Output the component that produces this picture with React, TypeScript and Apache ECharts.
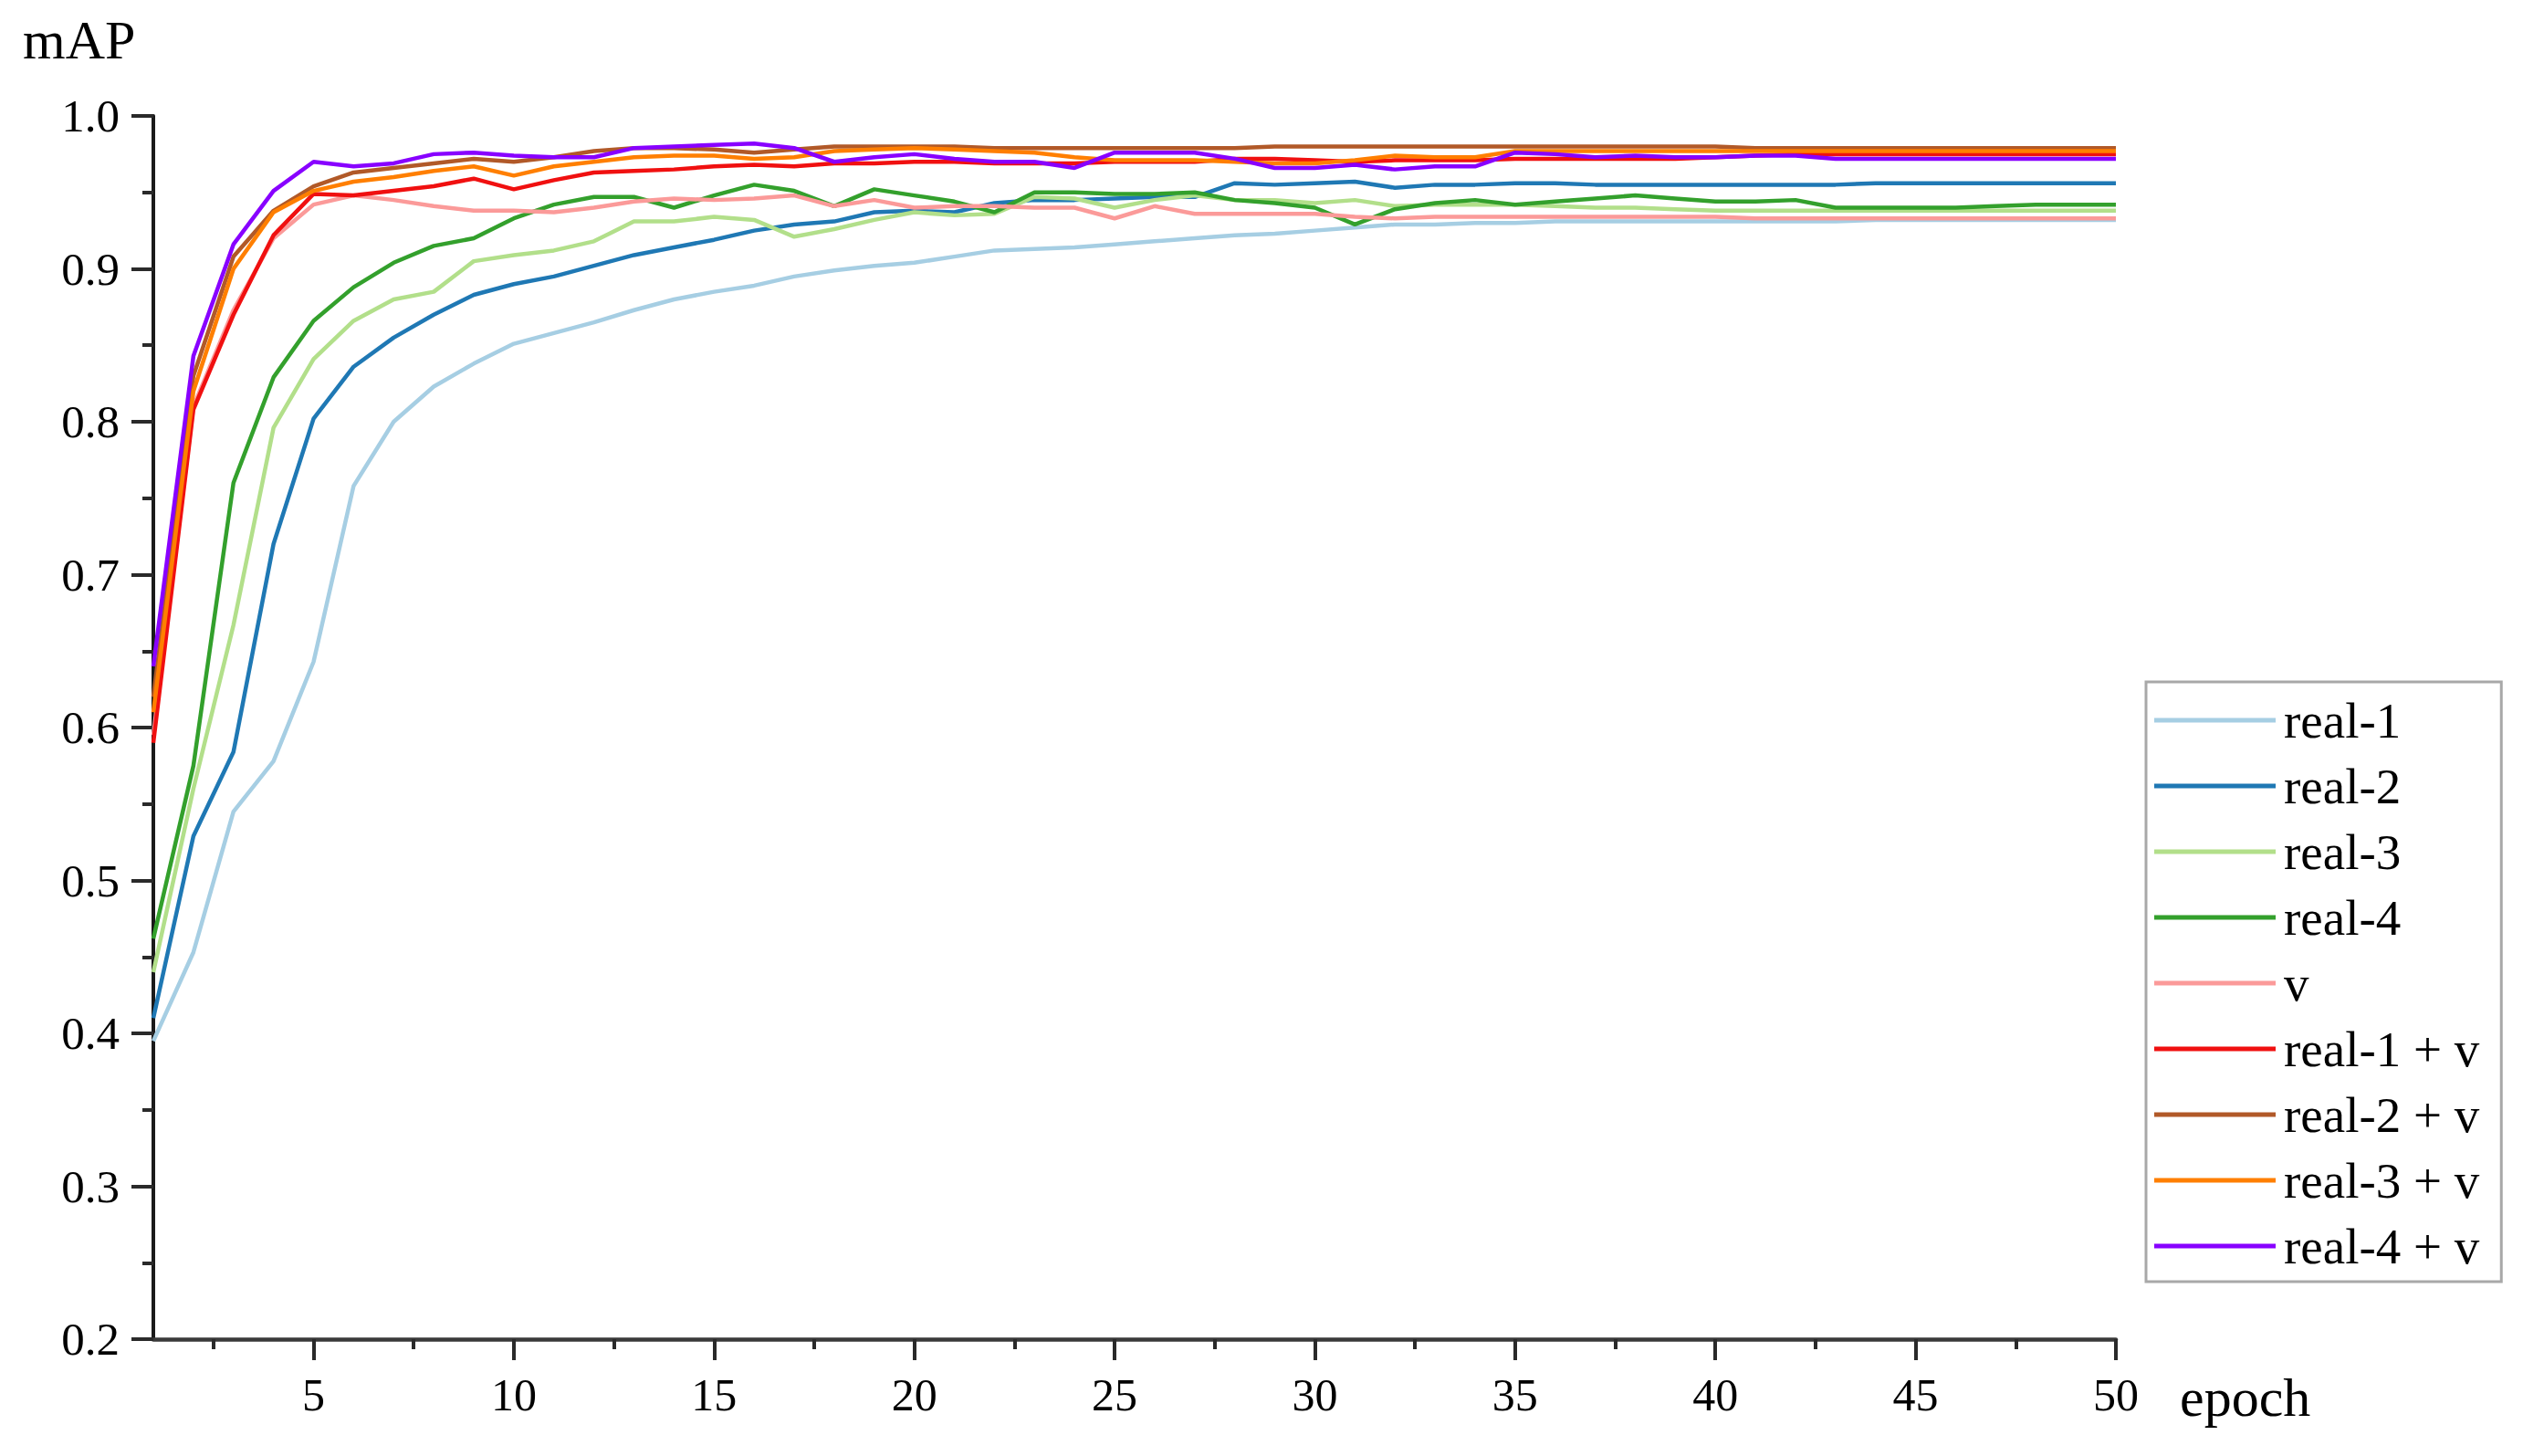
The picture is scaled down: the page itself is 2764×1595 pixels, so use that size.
import React, { useEffect, useRef } from "react";
import * as echarts from "echarts";

const epochs = [
  1, 2, 3, 4, 5, 6, 7, 8, 9, 10, 11, 12, 13, 14, 15, 16, 17, 18, 19, 20, 21, 22, 23, 24, 25,
  26, 27, 28, 29, 30, 31, 32, 33, 34, 35, 36, 37, 38, 39, 40, 41, 42, 43, 44, 45, 46, 47, 48, 49, 50,
];

const seriesNames = [
  "real-1",
  "real-2",
  "real-3",
  "real-4",
  "v",
  "real-1 + v",
  "real-2 + v",
  "real-3 + v",
  "real-4 + v",
];

const seriesColors = [
  "#a6cee3",
  "#1f78b4",
  "#b2df8a",
  "#33a02c",
  "#fb9a99",
  "#f01010",
  "#b15928",
  "#ff7f00",
  "#8800ff",
];

const real1 = [
  0.395, 0.453, 0.545, 0.578, 0.643, 0.758, 0.8, 0.823, 0.838, 0.851,
  0.858, 0.865, 0.873, 0.88, 0.885, 0.889, 0.895, 0.899, 0.902, 0.904,
  0.908, 0.912, 0.913, 0.914, 0.916, 0.918, 0.92, 0.922, 0.923, 0.925,
  0.927, 0.929, 0.929, 0.93, 0.93, 0.931, 0.931, 0.931, 0.931, 0.931,
  0.931, 0.931, 0.931, 0.932, 0.932, 0.932, 0.932, 0.932, 0.932, 0.932,
];

const real2 = [
  0.41, 0.529, 0.584, 0.72, 0.802, 0.836, 0.855, 0.87, 0.883, 0.89,
  0.895, 0.902, 0.909, 0.914, 0.919, 0.925, 0.929, 0.931, 0.937, 0.938,
  0.937, 0.943, 0.945, 0.945, 0.946, 0.947, 0.947, 0.956, 0.955, 0.956,
  0.957, 0.953, 0.955, 0.955, 0.956, 0.956, 0.955, 0.955, 0.955, 0.955,
  0.955, 0.955, 0.955, 0.956, 0.956, 0.956, 0.956, 0.956, 0.956, 0.956,
];

const real3 = [
  0.44, 0.56, 0.667, 0.796, 0.841, 0.866, 0.88, 0.885, 0.905, 0.909,
  0.912, 0.918, 0.931, 0.931, 0.934, 0.932, 0.921, 0.926, 0.932, 0.937,
  0.935, 0.936, 0.947, 0.946, 0.94, 0.945, 0.948, 0.945, 0.945, 0.943,
  0.945, 0.941, 0.942, 0.942, 0.942, 0.941, 0.94, 0.94, 0.939, 0.938,
  0.938, 0.938, 0.938, 0.938, 0.938, 0.938, 0.938, 0.938, 0.938, 0.938,
];

const real4 = [
  0.462, 0.575, 0.76, 0.829, 0.866, 0.888, 0.904, 0.915, 0.92, 0.933,
  0.942, 0.947, 0.947, 0.94, 0.948, 0.955, 0.951, 0.941, 0.952, 0.948,
  0.944, 0.937, 0.95, 0.95, 0.949, 0.949, 0.95, 0.945, 0.943, 0.94,
  0.929, 0.939, 0.943, 0.945, 0.942, 0.944, 0.946, 0.948, 0.946, 0.944,
  0.944, 0.945, 0.94, 0.94, 0.94, 0.94, 0.941, 0.942, 0.942, 0.942,
];

const vOnly = [
  0.595, 0.81, 0.873, 0.92, 0.942, 0.948, 0.945, 0.941, 0.938, 0.938,
  0.937, 0.94, 0.944, 0.946, 0.945, 0.946, 0.948, 0.941, 0.945, 0.94,
  0.941, 0.941, 0.94, 0.94, 0.933, 0.941, 0.936, 0.936, 0.936, 0.936,
  0.934, 0.933, 0.934, 0.934, 0.934, 0.934, 0.934, 0.934, 0.934, 0.934,
  0.933, 0.933, 0.933, 0.933, 0.933, 0.933, 0.933, 0.933, 0.933, 0.933,
];

const real1v = [
  0.59, 0.808, 0.87, 0.922, 0.949, 0.948, 0.951, 0.954, 0.959, 0.952,
  0.958, 0.963, 0.964, 0.965, 0.967, 0.968, 0.967, 0.969, 0.969, 0.97,
  0.97, 0.969, 0.969, 0.969, 0.97, 0.97, 0.97, 0.972, 0.972, 0.971,
  0.97, 0.971, 0.971, 0.971, 0.972, 0.972, 0.972, 0.972, 0.972, 0.973,
  0.974, 0.975, 0.975, 0.975, 0.975, 0.975, 0.975, 0.975, 0.975, 0.975,
];

const real2v = [
  0.62, 0.83, 0.908, 0.938, 0.954, 0.963, 0.966, 0.969, 0.972, 0.97,
  0.973, 0.977, 0.979, 0.979, 0.978, 0.976, 0.978, 0.98, 0.98, 0.98,
  0.98, 0.979, 0.979, 0.979, 0.979, 0.979, 0.979, 0.979, 0.98, 0.98,
  0.98, 0.98, 0.98, 0.98, 0.98, 0.98, 0.98, 0.98, 0.98, 0.98,
  0.979, 0.979, 0.979, 0.979, 0.979, 0.979, 0.979, 0.979, 0.979, 0.979,
];

const real3v = [
  0.61, 0.82, 0.9, 0.937, 0.951, 0.957, 0.96, 0.964, 0.967, 0.961,
  0.967, 0.97, 0.973, 0.974, 0.974, 0.972, 0.973, 0.977, 0.978, 0.979,
  0.978, 0.977, 0.976, 0.973, 0.971, 0.971, 0.971, 0.97, 0.969, 0.969,
  0.971, 0.974, 0.973, 0.973, 0.977, 0.977, 0.977, 0.977, 0.977, 0.977,
  0.977, 0.977, 0.977, 0.977, 0.977, 0.977, 0.977, 0.977, 0.977, 0.977,
];

const real4v = [
  0.64, 0.843, 0.916, 0.951, 0.97, 0.967, 0.969, 0.975, 0.976, 0.974,
  0.973, 0.973, 0.979, 0.98, 0.981, 0.982, 0.979, 0.97, 0.973, 0.975,
  0.972, 0.97, 0.97, 0.966, 0.976, 0.976, 0.976, 0.972, 0.966, 0.966,
  0.968, 0.965, 0.967, 0.967, 0.976, 0.975, 0.973, 0.974, 0.973, 0.973,
  0.974, 0.974, 0.972, 0.972, 0.972, 0.972, 0.972, 0.972, 0.972, 0.972,
];

const seriesValues = [real1, real2, real3, real4, vOnly, real1v, real2v, real3v, real4v];

const xMajorTicks = [5, 10, 15, 20, 25, 30, 35, 40, 45, 50];
const xMinorTicks = [2.5, 7.5, 12.5, 17.5, 22.5, 27.5, 32.5, 37.5, 42.5, 47.5];

const yAxisTitle = "mAP";
const xAxisTitle = "epoch";

const FONT = "'Liberation Serif', 'Times New Roman', serif";

export default function App() {
  const ref = useRef<HTMLDivElement>(null);

  useEffect(() => {
    if (!ref.current) return;
    const chart = echarts.init(ref.current, null, { renderer: "svg" });

    const axisColor = "#2a2a2a";

    const option: any = {
      animation: false,
      backgroundColor: "#ffffff",
      grid: { left: 168, top: 127, right: 446, bottom: 128, containLabel: false },
      xAxis: [
        {
          type: "value",
          min: 1,
          max: 50,
          position: "bottom",
          axisLine: { show: true, lineStyle: { color: "#3a3a3a", width: 4.5 } },
          axisTick: {
            show: true,
            customValues: xMajorTicks,
            length: 23,
            lineStyle: { color: axisColor, width: 4 },
          },
          axisLabel: {
            show: true,
            customValues: xMajorTicks,
            margin: 36,
            fontFamily: FONT,
            fontSize: 50,
            color: "#000",
          },
          splitLine: { show: false },
        },
        {
          type: "value",
          min: 1,
          max: 50,
          position: "bottom",
          axisLine: { show: false },
          axisTick: {
            show: true,
            customValues: xMinorTicks,
            length: 11,
            lineStyle: { color: axisColor, width: 4 },
          },
          axisLabel: { show: false },
          splitLine: { show: false },
        },
      ],
      yAxis: {
        type: "value",
        min: 0.2,
        max: 1.0,
        interval: 0.1,
        axisLine: { show: true, lineStyle: { color: "#1a1a1a", width: 4 } },
        axisTick: { show: true, length: 24, lineStyle: { color: axisColor, width: 4 } },
        minorTick: { show: true, splitNumber: 2, length: 12, lineStyle: { color: axisColor, width: 4 } },
        axisLabel: {
          margin: 37,
          fontFamily: FONT,
          fontSize: 51,
          color: "#000",
          formatter: (v: number) => v.toFixed(1),
        },
        splitLine: { show: false },
        minorSplitLine: { show: false },
      },
      legend: {
        orient: "vertical",
        left: 2351,
        top: 747,
        icon: "rect",
        itemWidth: 133,
        itemHeight: 5,
        itemGap: 16,
        padding: [14, 24, 11, 9],
        borderColor: "#a8a8a8",
        borderWidth: 3,
        backgroundColor: "#ffffff",
        textStyle: { fontFamily: FONT, fontSize: 55, color: "#000", lineHeight: 56, padding: [0, 0, 0, 4] },
        data: seriesNames,
      },
      graphic: [
        {
          type: "text",
          x: 25,
          y: 44,
          style: { text: yAxisTitle, font: `60px ${FONT}`, fill: "#000", verticalAlign: "middle", align: "left" },
        },
        {
          type: "text",
          x: 2388,
          y: 1531,
          style: { text: xAxisTitle, font: `60px ${FONT}`, fill: "#000", verticalAlign: "middle", align: "left" },
        },
      ],
      series: seriesNames.map((name, i) => ({
        name,
        type: "line",
        xAxisIndex: 0,
        yAxisIndex: 0,
        showSymbol: false,
        symbol: "none",
        smooth: false,
        color: seriesColors[i],
        itemStyle: { color: seriesColors[i] },
        lineStyle: { color: seriesColors[i], width: 4.5 },
        data: epochs.map((e, k) => [e, seriesValues[i][k]]),
      })),
    };

    chart.setOption(option);
    return () => chart.dispose();
  }, []);

  return (
    <div
      ref={ref}
      style={{ position: "absolute", left: 0, top: 0, width: 2764, height: 1595, background: "#fff" }}
    />
  );
}
